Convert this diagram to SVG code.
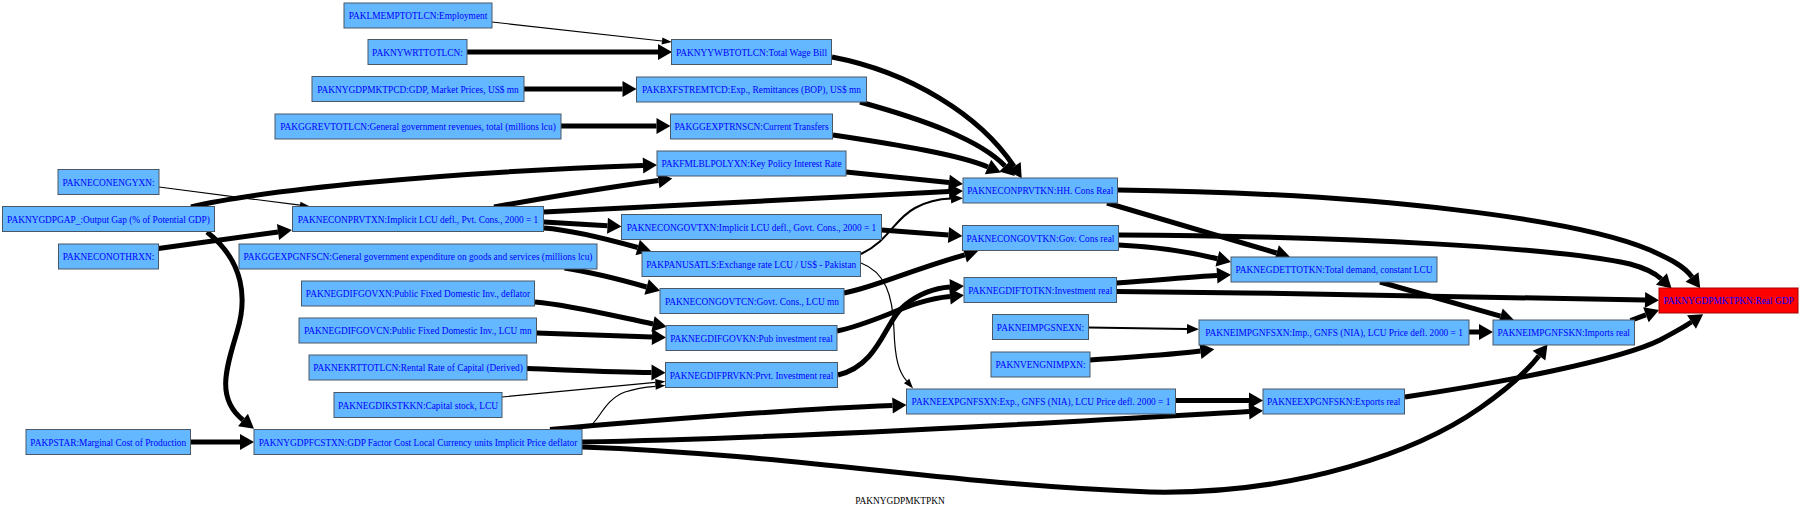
<svg xmlns="http://www.w3.org/2000/svg" width="1800" height="512" viewBox="0 0 1800 512">
<style>
.n rect{fill:#63b8ff;stroke:#4a5866;stroke-width:1}
.n.r rect{fill:#ff0000;stroke:#a00000}
text{font-family:"Liberation Serif","Times New Roman",serif;font-size:9.35px;text-anchor:middle}
.n text{fill:#0000ff}
.e5{fill:none;stroke:#000;stroke-width:5;marker-end:url(#ab)}
.e2{fill:none;stroke:#000;stroke-width:2;marker-end:url(#am)}
.e1{fill:none;stroke:#000;stroke-width:1.2;marker-end:url(#as)}
</style>
<defs>
<marker id="ab" markerUnits="userSpaceOnUse" markerWidth="14" markerHeight="16" refX="0" refY="8" orient="auto" overflow="visible"><path d="M0,0 L14,8 L0,16 z" fill="#000"/></marker>
<marker id="am" markerUnits="userSpaceOnUse" markerWidth="12" markerHeight="10" refX="0" refY="5" orient="auto" overflow="visible"><path d="M0,0 L12,5 L0,10 z" fill="#000"/></marker>
<marker id="as" markerUnits="userSpaceOnUse" markerWidth="10" markerHeight="7" refX="0" refY="3.5" orient="auto" overflow="visible"><path d="M0,0 L10,3.5 L0,7 z" fill="#000"/></marker>
</defs>
<rect width="1800" height="512" fill="#fff"/>
<g id="edges">
<path class="e1" d="M492,22 L662,41"/>
<path class="e5" d="M467,52 L658,52"/>
<path class="e5" d="M524,89 L622.5,89"/>
<path class="e5" d="M561,126 L656.5,126"/>
<path class="e5" d="M832,57 C910,72 980,115 1014,166.5"/>
<path class="e5" d="M860,102 C925,120 980,140 1005,166"/>
<path class="e5" d="M833,135 C900,145 960,155 988,167"/>
<path class="e5" d="M846,172 L949,182.6"/>
<path class="e5" d="M191,207 C260,190 450,172 643,165.5"/>
<path class="e1" d="M159,187 L300,205.2"/>
<path class="e5" d="M158.5,248.5 L278,232"/>
<path class="e5" d="M544,212 C700,205 850,196 949,191.6"/>
<path class="e5" d="M494,207 C560,195 610,187 658.4,180.4"/>
<path class="e5" d="M544,222 L607.5,225.7"/>
<path class="e5" d="M544,228 C570,230 600,237 637.7,247.5"/>
<path class="e5" d="M207,232 C245,262 247,300 237,332 C227,366 215,398 243,420"/>
<path class="e5" d="M564.5,268 C590,272 615,278 646.6,287"/>
<path class="e5" d="M535,302 C570,305 610,315 653,324"/>
<path class="e5" d="M536.5,333 L652,337"/>
<path class="e5" d="M527,368.5 C570,370 610,372 651.5,372.6"/>
<path class="e1" d="M502,397 L655.5,382.4"/>
<path class="e1" d="M588,428 C600,420 604,400 625,392 C637,388 646,387 655.5,386.3"/>
<path class="e5" d="M550,429.5 C650,420 800,409 892.5,405.5"/>
<path class="e5" d="M582,442 C800,438 1100,420 1249,411.5"/>
<path class="e5" d="M582,447 C800,455 950,485 1150,492 C1300,495 1420,450 1480,408 C1510,387 1528,370 1539,355.7"/>
<path class="e5" d="M190.5,442 L240,442"/>
<path class="e5" d="M837,331 C880,322 910,300 950,296.5"/>
<path class="e5" d="M838,375 C880,365 885,320 905,305 C920,293 935,288 950,287"/>
<path class="e2" d="M861,254 C890,240 893,220 915,208 C928,201 940,199 951,198.6"/>
<path class="e1" d="M861,263 C885,272 893,295 894,330 C895,360 899,372 906.6,380.9"/>
<path class="e5" d="M881.5,230 L948.5,235"/>
<path class="e5" d="M844,293 C875,287 905,272 964.7,254.8"/>
<path class="e5" d="M1117.5,190 C1380,193 1580,220 1650,250 C1670,259 1684,266 1692,277"/>
<path class="e5" d="M1107,203 L1276.6,253"/>
<path class="e5" d="M1118.5,235 C1350,236 1560,248 1630,264 C1645,268 1655,273 1661.4,279"/>
<path class="e5" d="M1118.5,245 C1160,247 1190,252 1217.4,258.7"/>
<path class="e5" d="M1116.5,283 C1160,280 1190,277 1217,275.5"/>
<path class="e5" d="M1116.5,291.5 C1300,293 1500,297 1645,300"/>
<path class="e5" d="M1380,282 L1500.5,316.2"/>
<path class="e5" d="M1630.5,320.5 L1645.9,314.8"/>
<path class="e5" d="M1405,397 C1500,383 1620,360 1660,340 C1675,332 1684,327 1691.5,322"/>
<path class="e2" d="M1088.5,327.5 L1187,329"/>
<path class="e5" d="M1090,360 C1130,357 1170,355 1200.4,351"/>
<path class="e5" d="M1469,332 L1479,332"/>
<path class="e5" d="M1175,400.5 L1249,400.5"/>
</g>
<g id="n_employment" class="n"><rect x="344" y="3" width="148" height="25"/><text x="418" y="19">PAKLMEMPTOTLCN:Employment</text></g>
<g id="n_nywrt" class="n"><rect x="368" y="39.5" width="99" height="25"/><text x="417.5" y="55.5">PAKNYWRTTOTLCN:</text></g>
<g id="n_nygdpmktpcd" class="n"><rect x="312" y="76.5" width="212" height="25"/><text x="418" y="92.5">PAKNYGDPMKTPCD:GDP, Market Prices, US$ mn</text></g>
<g id="n_ggrev" class="n"><rect x="275" y="114" width="286" height="25"/><text x="418" y="130">PAKGGREVTOTLCN:General government revenues, total (millions lcu)</text></g>
<g id="n_wagebill" class="n"><rect x="671.5" y="39.5" width="160" height="25"/><text x="751.5" y="55.5">PAKNYYWBTOTLCN:Total Wage Bill</text></g>
<g id="n_bxf" class="n"><rect x="636.5" y="77" width="230" height="25"/><text x="751.5" y="93">PAKBXFSTREMTCD:Exp., Remittances (BOP), US$ mn</text></g>
<g id="n_ggexptrns" class="n"><rect x="670.5" y="114" width="162" height="25"/><text x="751.5" y="130">PAKGGEXPTRNSCN:Current Transfers</text></g>
<g id="n_keypolicy" class="n"><rect x="657" y="151" width="189" height="25"/><text x="751.5" y="167">PAKFMLBLPOLYXN:Key Policy Interest Rate</text></g>
<g id="n_engy" class="n"><rect x="58" y="169.5" width="101" height="25"/><text x="108.5" y="185.5">PAKNECONENGYXN:</text></g>
<g id="n_gap" class="n"><rect x="2.5" y="206.5" width="212" height="25"/><text x="108.5" y="222.5">PAKNYGDPGAP_:Output Gap (% of Potential GDP)</text></g>
<g id="n_prvtxn" class="n"><rect x="292.5" y="206.5" width="251" height="25"/><text x="418" y="222.5">PAKNECONPRVTXN:Implicit LCU defl., Pvt. Cons., 2000 = 1</text></g>
<g id="n_othr" class="n"><rect x="58.5" y="244" width="100" height="25"/><text x="108.5" y="260">PAKNECONOTHRXN:</text></g>
<g id="n_ggexpgnfs" class="n"><rect x="239" y="244" width="358" height="25"/><text x="418" y="260">PAKGGEXPGNFSCN:General government expenditure on goods and services (millions lcu)</text></g>
<g id="n_govxn" class="n"><rect x="301.5" y="281" width="233" height="25"/><text x="418" y="297">PAKNEGDIFGOVXN:Public Fixed Domestic Inv., deflator</text></g>
<g id="n_govcn" class="n"><rect x="299" y="318" width="237.5" height="25"/><text x="417.75" y="334">PAKNEGDIFGOVCN:Public Fixed Domestic Inv., LCU mn</text></g>
<g id="n_krt" class="n"><rect x="309" y="355" width="218" height="25"/><text x="418" y="371">PAKNEKRTTOTLCN:Rental Rate of Capital (Derived)</text></g>
<g id="n_kstk" class="n"><rect x="334" y="392.5" width="168" height="25"/><text x="418" y="408.5">PAKNEGDIKSTKKN:Capital stock, LCU</text></g>
<g id="n_pstar" class="n"><rect x="26" y="429.5" width="164.5" height="25"/><text x="108.25" y="445.5">PAKPSTAR:Marginal Cost of Production</text></g>
<g id="n_fcstxn" class="n"><rect x="254" y="429.5" width="328" height="25"/><text x="418" y="445.5">PAKNYGDPFCSTXN:GDP Factor Cost Local Currency units Implicit Price deflator</text></g>
<g id="n_govtxn" class="n"><rect x="621.5" y="214.5" width="260" height="25"/><text x="751.5" y="230.5">PAKNECONGOVTXN:Implicit LCU defl., Govt. Cons., 2000 = 1</text></g>
<g id="n_panus" class="n"><rect x="642" y="251.5" width="218.5" height="25"/><text x="751.25" y="267.5">PAKPANUSATLS:Exchange rate LCU / US$ - Pakistan</text></g>
<g id="n_govtcn" class="n"><rect x="660" y="288.5" width="184" height="25"/><text x="752" y="304.5">PAKNECONGOVTCN:Govt. Cons., LCU mn</text></g>
<g id="n_govkn" class="n"><rect x="666" y="325.5" width="171" height="25"/><text x="751.5" y="341.5">PAKNEGDIFGOVKN:Pub investment real</text></g>
<g id="n_prvkn" class="n"><rect x="665.5" y="362.5" width="172" height="25"/><text x="751.5" y="378.5">PAKNEGDIFPRVKN:Prvt. Investment real</text></g>
<g id="n_hhcons" class="n"><rect x="963" y="178" width="154.5" height="25"/><text x="1040.25" y="194">PAKNECONPRVTKN:HH. Cons Real</text></g>
<g id="n_govcons" class="n"><rect x="962.5" y="225.5" width="156" height="25"/><text x="1040.5" y="241.5">PAKNECONGOVTKN:Gov. Cons real</text></g>
<g id="n_inv" class="n"><rect x="964" y="277.5" width="152.5" height="25"/><text x="1040.25" y="293.5">PAKNEGDIFTOTKN:Investment real</text></g>
<g id="n_impgsnexn" class="n"><rect x="992.5" y="314.5" width="96" height="25"/><text x="1040.5" y="330.5">PAKNEIMPGSNEXN:</text></g>
<g id="n_nveng" class="n"><rect x="991" y="352" width="99" height="25"/><text x="1040.5" y="368">PAKNVENGNIMPXN:</text></g>
<g id="n_expgnfsxn" class="n"><rect x="906.5" y="389" width="269" height="25"/><text x="1041" y="405">PAKNEEXPGNFSXN:Exp., GNFS (NIA), LCU Price defl. 2000 = 1</text></g>
<g id="n_totdem" class="n"><rect x="1231" y="257" width="206" height="25"/><text x="1334" y="273">PAKNEGDETTOTKN:Total demand, constant LCU</text></g>
<g id="n_impgnfsxn" class="n"><rect x="1199" y="320" width="270" height="25"/><text x="1334" y="336">PAKNEIMPGNFSXN:Imp., GNFS (NIA), LCU Price defl. 2000 = 1</text></g>
<g id="n_exports" class="n"><rect x="1263" y="389" width="141.5" height="25"/><text x="1333.75" y="405">PAKNEEXPGNFSKN:Exports real</text></g>
<g id="n_imports" class="n"><rect x="1493" y="320" width="141.5" height="25"/><text x="1563.75" y="336">PAKNEIMPGNFSKN:Imports real</text></g>
<g id="n_realgdp" class="n r"><rect x="1659" y="288" width="139" height="25"/><text x="1728.5" y="304">PAKNYGDPMKTPKN:Real GDP</text></g>
<text x="900" y="504" fill="#000">PAKNYGDPMKTPKN</text>
</svg>
